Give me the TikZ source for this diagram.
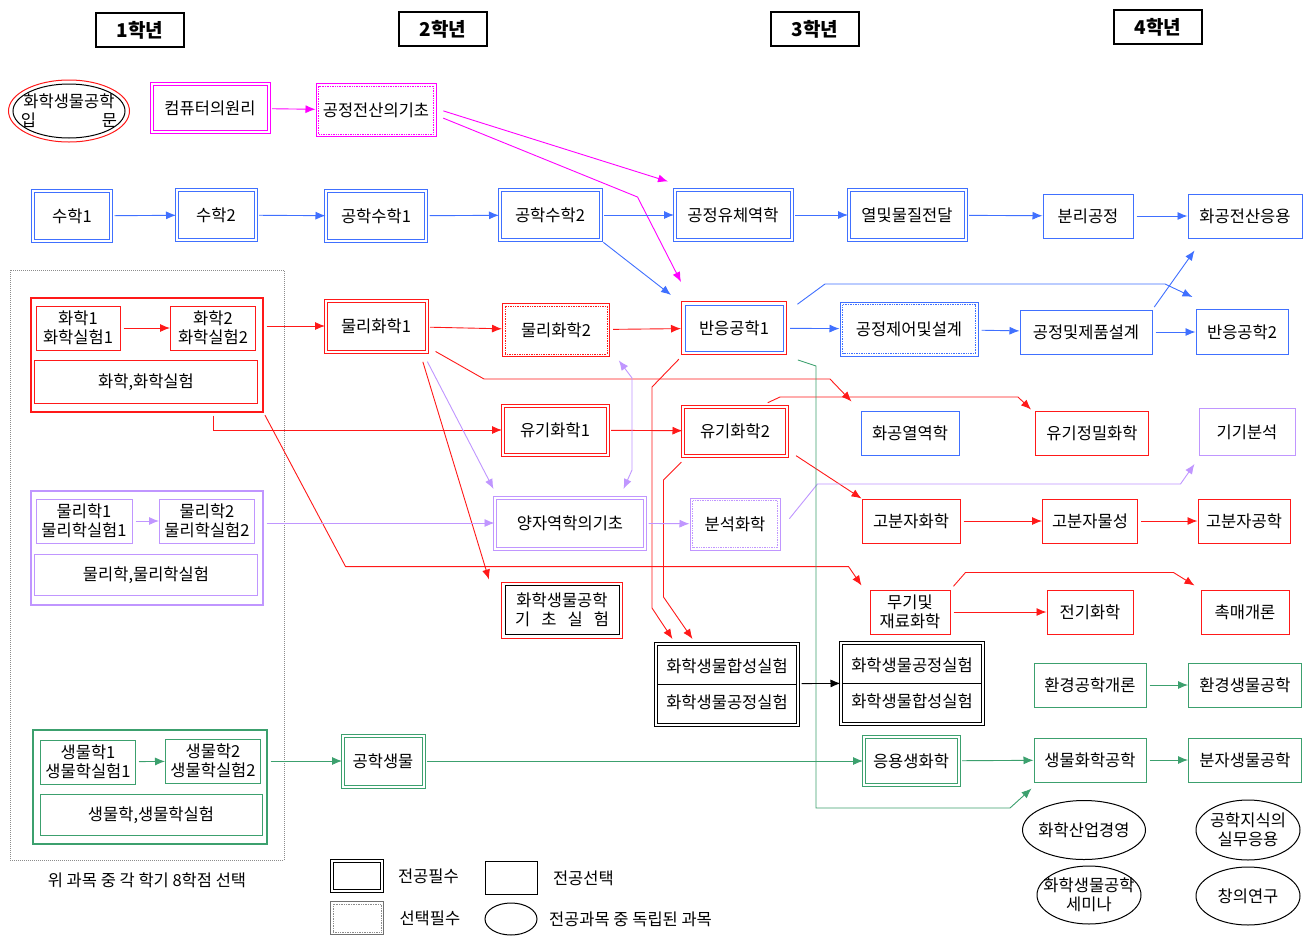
\documentclass[tikz,border=0pt]{standalone}
\usepackage{fontspec}
\newfontfamily\kor{Noto Sans CJK KR}
\usepackage{tikz}
\usetikzlibrary{arrows.meta,calc,shapes,positioning}

\definecolor{cred}{RGB}{255,25,25}
\definecolor{cblue}{RGB}{64,112,255}
\definecolor{cmag}{RGB}{255,0,255}
\definecolor{cpur}{RGB}{192,150,255}
\definecolor{cgrn}{RGB}{60,160,110}
\definecolor{cgray}{RGB}{140,140,140}

\begin{document}
\begin{tikzpicture}[
    x = 1pt, y = -1pt,
    font = \kor\fontsize{16.5}{19}\selectfont,
    >= {Latex[length=10pt, width=8pt]},
    wh/.style 2 args = {minimum width=#1, minimum height=#2},
    opt/.style = {draw=#1, line width=1pt, align=center, inner sep=1pt},
    req/.style = {opt=#1, double=white, double distance=2pt},
    sel/.style = {opt=#1},
    grp/.style = {draw=#1, line width=1.1pt},
    lnk/.style = {draw=#1, line width=0.9pt, ->, shorten <=3pt}
  ]

  \path[use as bounding box, fill=white] (0,0) rectangle (1310,935);

  \tikzstyle {yr} = [draw, line width=1.8pt, minimum width=88, minimum height=34, font=\kor\fontsize{19}{22}\selectfont\bfseries]
  \tikzstyle {free} = [draw, ellipse, line width=1pt, inner sep=0]

  %% headers
  \node [yr] (y1) at (140,30) {1학년};
  \node [yr] (y2) at (443,29) {2학년};
  \node [yr] (y3) at (815,29) {3학년};
  \node [yr] (y4) at (1158,27) {4학년};

  %% first year block
  \node [draw=cgray, densely dotted, line width=1pt, wh={274}{590}] (sel8) at (147,565) {};
  \node [below=9pt of sel8] (note) {위 과목 중 각 학기 8학점 선택};

  \node [free, draw=cred, wh={121}{62}, label={[align=center]center:화학생물공학\\입\hspace{4em}문}] (iphak) at (69,111) {};
  \draw [line width=1pt] (iphak.center) ellipse (56 and 27);
  \node [req=cmag, wh={117}{48}] (comp) at (210,108) {컴퓨터의원리};
  \node [sel=cmag, wh={120}{53}] (gjsan) at (376,110) {공정전산의기초};

  \node [req=cblue, wh={78}{50}] (su1) at (72,216) {수학1};
  \node [req=cblue, wh={79}{50}] (su2) at (216,215) {수학2};
  \node [req=cblue, wh={100}{50}] (gsu1) at (376,216) {공학수학1};
  \node [req=cblue, wh={101}{50}] (gsu2) at (550,215) {공학수학2};
  \node [req=cblue, wh={117}{50}] (yuche) at (733,215) {공정유체역학};
  \node [req=cblue, wh={117}{50}] (yeol) at (907,215) {열및물질전달};
  \node [opt=cblue, wh={90}{44}] (bunri) at (1088,216) {분리공정};
  \node [opt=cblue, wh={114}{44}] (jeonsan) at (1245,216) {화공전산응용};

  \node [grp=cred, wh={232}{114}] (chem) at (147,355) {};
  \node [opt=cred, wh={84}{44}] (hw1) at (78,328) {화학1\\화학실험1};
  \node [opt=cred, wh={85}{44}] (hw2) at (213,328) {화학2\\화학실험2};
  \node [opt=cred, wh={223}{43}] (hwsil) at (146,382) {화학,화학실험};

  \node [req=cred, wh={101}{51}] (mhw1) at (376,326) {물리화학1};
  \node [sel=cred, wh={107}{53}] (mhw2) at (556,330) {물리화학2};
  \node [opt=cred, wh={105}{53}] (ban1) at (734,328) {반응공학1};
  \node [sel=cblue, wh={138}{54}] (jeeo) at (909,329) {공정제어및설계};
  \node [opt=cblue, wh={132}{44}] (jepum) at (1086,332) {공정및제품설계};
  \node [opt=cblue, wh={92}{45}] (ban2) at (1242,332) {반응공학2};

  \node [req=cred, wh={105}{49}] (yugi1) at (555,430) {유기화학1};
  \node [req=cred, wh={104}{49}] (yugi2) at (735,431) {유기화학2};
  \node [opt=cblue, wh={98}{44}] (hwayeol) at (910,433) {화공열역학};
  \node [opt=cred, wh={113}{44}] (yujeong) at (1092,433) {유기정밀화학};
  \node [opt=cpur, wh={96}{47}] (gigi) at (1247,432) {기기분석};

  \node [grp=cpur, wh={232}{114}] (phys) at (147,548) {};
  \node [opt=cpur, wh={96}{44}] (ml1) at (84,521) {물리학1\\물리학실험1};
  \node [opt=cpur, wh={95}{44}] (ml2) at (207,521) {물리학2\\물리학실험2};
  \node [opt=cpur, wh={223}{41}] (mlsil) at (146,575) {물리학,물리학실험};

  \node [req=cpur, wh={150}{51}] (yangja) at (570,523) {양자역학의기초};
  \node [sel=cpur, wh={90}{52}] (bunseok) at (735,524) {분석화학};
  \node [opt=cred, wh={98}{44}] (gobun1) at (911,521) {고분자화학};
  \node [opt=cred, wh={95}{44}] (gobun2) at (1090,521) {고분자물성};
  \node [opt=cred, wh={92}{44}] (gobun3) at (1244,521) {고분자공학};

  \node [opt=cred, wh={121}{56}] (gicho) at (562,610) {화학생물공학\\기\hspace{.67em}초\hspace{.67em}실\hspace{.67em}험};
  \node [opt=cred, wh={80}{44}] (mugi) at (910,612) {무기및\\재료화학};
  \node [opt=cred, wh={86}{44}] (jeongi) at (1090,612) {전기화학};
  \node [opt=cred, wh={88}{44}] (chok) at (1245,612) {촉매개론};

  \node [req=black, wh={142}{81}] (lab1) at (727,684) {화학생물합성실험\\[17pt]화학생물공정실험};
  \node [req=black, wh={142}{81}] (lab2) at (912,683) {화학생물공정실험\\[17pt]화학생물합성실험};
  \node [opt=cgrn, wh={112}{44}] (hwangae) at (1090,685) {환경공학개론};
  \node [opt=cgrn, wh={113}{44}] (hwangsaeng) at (1245,685) {환경생물공학};

  \node [grp=cgrn, wh={234}{114}] (bio) at (150,787) {};
  \node [opt=cgrn, wh={95}{44}] (sm1) at (88,762) {생물학1\\생물학실험1};
  \node [opt=cgrn, wh={95}{44}] (sm2) at (213,761) {생물학2\\생물학실험2};
  \node [opt=cgrn, wh={222}{41}] (smsil) at (151,815) {생물학,생물학실험};

  \node [req=cgrn, wh={81}{51}] (gsaeng) at (383,761) {공학생물};
  \node [req=cgrn, wh={95}{48}] (eungyong) at (911,761) {응용생화학};
  \node [opt=cgrn, wh={112}{44}] (saenghwa) at (1090,760) {생물화학공학};
  \node [opt=cgrn, wh={113}{44}] (bunja) at (1245,760) {분자생물공학};

  \node [free, wh={123}{59}, label={center:화학산업경영}] (sanup) at (1084,830) {};
  \node [free, wh={104}{60}, label={[align=center]center:공학지식의\\실무응용}] (silmu) at (1248,830) {};
  \node [free, wh={104}{58}, label={[align=center]center:화학생물공학\\세미나}] (semina) at (1089,895) {};
  \node [free, wh={104}{58}, label={center:창의연구}] (changui) at (1248,896) {};

  %% legend
  \node [req=black, wh={50}{30}] (lg1) at (357,876) {};
  \node [right=12pt of lg1] (lt1) {전공필수};
  \node [opt=black, wh={52}{33}] (lg2) at (511,878) {};
  \node [right=12pt of lg2] (lt2) {전공선택};
  \node [sel=cgray!80!black, wh={53}{33}] (lg3) at (357,918) {};
  \node [right=12pt of lg3] (lt3) {선택필수};
  \node [free, wh={52}{32}] (lg4) at (511,919) {};
  \node [right=8pt of lg4] (lt4) {전공과목 중 독립된 과목};

  %% inner frames
  \draw [cmag, densely dotted, line width=0.7pt] ([shift={(3,-3)}]gjsan.south west) rectangle ([shift={(-3,3)}]gjsan.north east);
  \draw [cred, densely dotted, line width=0.7pt] ([shift={(3,-3)}]mhw2.south west) rectangle ([shift={(-3,3)}]mhw2.north east);
  \draw [cblue, densely dotted, line width=0.7pt] ([shift={(3,-3)}]jeeo.south west) rectangle ([shift={(-3,3)}]jeeo.north east);
  \draw [cpur, densely dotted, line width=0.7pt] ([shift={(3,-3)}]bunseok.south west) rectangle ([shift={(-3,3)}]bunseok.north east);
  \draw [cgray, densely dotted, line width=0.7pt] ([shift={(3,-3)}]lg3.south west) rectangle ([shift={(-3,3)}]lg3.north east);
  \draw [cblue, line width=1pt] ([shift={(4,-4)}]ban1.south west) rectangle ([shift={(-4,4)}]ban1.north east);
  \draw [black, line width=1pt] ([shift={(4,-4)}]gicho.south west) rectangle ([shift={(-4,4)}]gicho.north east);
  \draw [line width=1pt] ([shift={(1.5,0)}]lab1.west) -- ([shift={(-1.5,0)}]lab1.east);
  \draw [line width=1pt] ([shift={(1.5,0)}]lab2.west) -- ([shift={(-1.5,0)}]lab2.east);

  %% magenta
  \draw [lnk=cmag] (comp) -- (gjsan);
  \draw [lnk=cmag] ([shift={(4,0)}]gjsan.east) -- ([shift={(-6,-8)}]yuche.north west);
  \draw [lnk=cmag] ([shift={(4,7)}]gjsan.east) -- ++(197,80) -- ([shift={(0,-19)}]ban1.north west);

  %% blue
  \draw [lnk=cblue] (su1) -- (su2);
  \draw [lnk=cblue] (su2) -- (gsu1);
  \draw [lnk=cblue] (gsu1) -- (gsu2);
  \draw [lnk=cblue] (gsu2) -- (yuche);
  \draw [lnk=cblue] (yuche) -- (yeol);
  \draw [lnk=cblue] (yeol) -- (bunri);
  \draw [lnk=cblue] (bunri) -- (jeonsan);
  \draw [lnk=cblue] (gsu2.south east) -- ([shift={(-10,-6)}]ban1.north west);
  \draw [lnk=cblue] (ban1) -- (jeeo);
  \draw [lnk=cblue] (jeeo) -- (jepum);
  \draw [lnk=cblue] (jepum) -- (ban2);
  \draw [lnk=cblue] (jepum.north east) -- ([shift={(7,12)}]jeonsan.south west);
  \draw [lnk=cblue] ([shift={(8,5)}]ban1.north east) -- ++(30,-22) -- ++(340,0) -- ([shift={(-3,-12)}]ban2.north west);

  %% red
  \draw [lnk=cred] (hw1) -- (hw2);
  \draw [lnk=cred] (chem.east |- mhw1) -- (mhw1);
  \draw [lnk=cred] (mhw1) -- (mhw2);
  \draw [lnk=cred] (mhw2) -- (ban1);
  \draw [lnk=cred] (chem.south -| hw2) |- (yugi1);
  \draw [lnk=cred] (chem.south east) -- ++(82,154) -- ++(503,0) -- ([shift={(-8,-4)}]mugi.north west);
  \draw [lnk=cred] ([shift={(6,-2)}]mhw1.south east) -- ++(51,29) -- ++(346,0) -- ([shift={(-9,-9)}]hwayeol.north west);
  \draw [lnk=cred] ([shift={(-5,7)}]mhw1.south east) -- ([shift={(-12,-2)}]gicho.north west);
  \draw [lnk=cred] (yugi1) -- (yugi2);
  \draw [lnk=cred] ([shift={(0,2)}]ban1.south west) -- ++(-29,30) -- ++(0,221) -- ([shift={(17,-4)}]lab1.north west);
  \draw [lnk=cred] ([shift={(1,4)}]yugi2.south west) -- ++(-20,20) -- ++(0,117) -- ([shift={(37,-4)}]lab1.north west);
  \draw [lnk=cred] ([shift={(30,-2)}]yugi2.north) -- ++(15,-7) -- ++(238,0) -- ([shift={(-4,-1)}]yujeong.north west);
  \draw [lnk=cred] ([shift={(6,-2)}]yugi2.south east) -- (gobun1.north west);
  \draw [lnk=cred] (gobun1) -- (gobun2);
  \draw [lnk=cred] (gobun2) -- (gobun3);
  \draw [lnk=cred] (mugi) -- (jeongi);
  \draw [lnk=cred] ([shift={(1,-1)}]mugi.north east) -- ++(14,-16) -- ++(208,0) -- ([shift={(-6,-4)}]chok.north west);

  %% purple
  \draw [lnk=cpur] (ml1) -- (ml2);
  \draw [lnk=cpur] (phys.east |- yangja) -- (yangja);
  \draw [lnk=cpur] ([shift={(-1,7)}]mhw1.south east) -- ([shift={(-1,-8)}]yangja.north west);
  \draw [lnk=cpur, <->] ([shift={(7,1)}]mhw2.south east) -- ++(15,20) -- ++(0,92) -- ([shift={(-22,-8)}]yangja.north east);
  \draw [lnk=cpur] (yangja) -- (bunseok);
  \draw [lnk=cpur] ([shift={(7,-3)}]bunseok.east) -- ++(30,-37) -- ++(363,0) -- ([shift={(-4,8)}]gigi.south west);

  %% green
  \draw [lnk=cgrn] (sm1) -- (sm2);
  \draw [lnk=cgrn] (bio.east |- gsaeng) -- (gsaeng);
  \draw [lnk=cgrn] (gsaeng) -- (eungyong);
  \draw [lnk=cgrn] (eungyong) -- (saenghwa);
  \draw [lnk=cgrn] (saenghwa) -- (bunja);
  \draw [lnk=cgrn] (hwangae) -- (hwangsaeng);
  \draw [lnk=cgrn] ([shift={(8,4)}]ban1.south east) -- ++(21,7) -- ++(0,442) -- ++(194,0) -- ([shift={(-2,6)}]saenghwa.south west);

  %% lab
  \draw [lnk=black] (lab1) -- (lab2);
\end{tikzpicture}
\end{document}
